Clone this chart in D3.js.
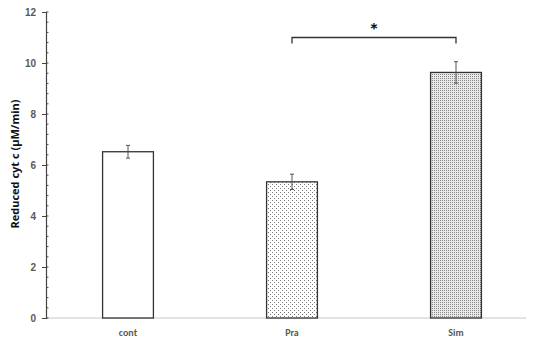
<!DOCTYPE html>
<html>
<head>
<meta charset="utf-8">
<script src="https://cdn.jsdelivr.net/npm/d3@7"></script>
<style>
  body { margin: 0; background: #fff; }
</style>
</head>
<body>
<div id="chart"></div>
<script>
var categories = ["cont", "Pra", "Sim"];
var means = [6.52, 5.34, 9.63];
var errors = [0.25, 0.3, 0.42];
var yTicks = [0, 2, 4, 6, 8, 10, 12];

var width = 550, height = 340;

var svg = d3.select("#chart").append("svg")
    .attr("width", width)
    .attr("height", height)
    .attr("font-family", "Calibri, 'Liberation Sans', Arial, sans-serif");

var defs = svg.append("defs");

// sparse dots for Pra
var p1 = defs.append("pattern")
    .attr("id", "dotsSparse")
    .attr("patternUnits", "userSpaceOnUse")
    .attr("width", 4).attr("height", 4);
p1.append("rect").attr("width", 4).attr("height", 4).attr("fill", "#fff");
p1.append("rect").attr("x", 0).attr("y", 0).attr("width", 1).attr("height", 1).attr("fill", "#777");
p1.append("rect").attr("x", 2).attr("y", 2).attr("width", 1).attr("height", 1).attr("fill", "#777");

// dense dots for Sim
var p2 = defs.append("pattern")
    .attr("id", "dotsDense")
    .attr("patternUnits", "userSpaceOnUse")
    .attr("width", 2).attr("height", 2);
p2.append("rect").attr("width", 2).attr("height", 2).attr("fill", "#e8e8e8");
p2.append("rect").attr("x", 0).attr("y", 0).attr("width", 1).attr("height", 1).attr("fill", "#8a8a8a");

var fills = ["#fff", "url(#dotsSparse)", "url(#dotsDense)"];

var x = d3.scaleBand()
    .domain(categories)
    .range([46, 538])
    .paddingInner(0.69)
    .paddingOuter(0.345);

var y = d3.scaleLinear()
    .domain([0, 12])
    .range([318, 12]);

// baseline
svg.append("line")
    .attr("x1", 46).attr("x2", 526)
    .attr("y1", y(0)).attr("y2", y(0))
    .attr("stroke", "#c8c8c8")
    .attr("stroke-width", 1);

// minor ticks
var minor = d3.range(0, 12.001, 0.4);
svg.append("g")
  .selectAll("line")
  .data(minor)
  .enter().append("line")
    .attr("x1", 46).attr("x2", 48.5)
    .attr("y1", function(d) { return y(d); })
    .attr("y2", function(d) { return y(d); })
    .attr("stroke", "#555");

// y axis
var yAxis = svg.append("g")
    .attr("transform", "translate(46,0)")
    .call(d3.axisLeft(y).tickValues(yTicks).tickSize(4).tickPadding(6));
yAxis.select(".domain").attr("stroke", "#444").attr("stroke-width", 1.2);
yAxis.selectAll(".tick line").attr("stroke", "#444");
yAxis.selectAll("text")
    .attr("font-size", 10)
    .attr("font-weight", "bold")
    .attr("fill", "#595959");

// y axis title
svg.append("text")
    .attr("transform", "translate(19," + 164 + ") rotate(-90)")
    .attr("text-anchor", "middle")
    .attr("font-family", "'Open Sans', sans-serif")
    .attr("font-size", 11)
    .attr("font-weight", "bold")
    .attr("fill", "#111")
    .text("Reduced  cyt c (µM/min)");

// bars
svg.selectAll(".bar")
    .data(categories)
    .enter().append("rect")
      .attr("class", "bar")
      .attr("x", function(d) { return x(d); })
      .attr("y", function(d, i) { return y(means[i]); })
      .attr("width", x.bandwidth())
      .attr("height", function(d, i) { return y(0) - y(means[i]); })
      .attr("fill", function(d, i) { return fills[i]; })
      .attr("stroke", "#333")
      .attr("stroke-width", 1.3);

// error bars
var eb = svg.selectAll(".err")
    .data(categories)
    .enter().append("g")
      .attr("class", "err")
      .attr("stroke", "#555")
      .attr("stroke-width", 1);
eb.append("line")
    .attr("x1", function(d) { return x(d) + x.bandwidth() / 2; })
    .attr("x2", function(d) { return x(d) + x.bandwidth() / 2; })
    .attr("y1", function(d, i) { return y(means[i] + errors[i]); })
    .attr("y2", function(d, i) { return y(means[i] - errors[i]); });
eb.append("line")
    .attr("x1", function(d) { return x(d) + x.bandwidth() / 2 - 2; })
    .attr("x2", function(d) { return x(d) + x.bandwidth() / 2 + 2; })
    .attr("y1", function(d, i) { return y(means[i] + errors[i]); })
    .attr("y2", function(d, i) { return y(means[i] + errors[i]); });
eb.append("line")
    .attr("x1", function(d) { return x(d) + x.bandwidth() / 2 - 2; })
    .attr("x2", function(d) { return x(d) + x.bandwidth() / 2 + 2; })
    .attr("y1", function(d, i) { return y(means[i] - errors[i]); })
    .attr("y2", function(d, i) { return y(means[i] - errors[i]); });

// category labels
svg.selectAll(".cat")
    .data(categories)
    .enter().append("text")
      .attr("class", "cat")
      .attr("x", function(d) { return x(d) + x.bandwidth() / 2; })
      .attr("y", 336)
      .attr("text-anchor", "middle")
      .attr("font-size", 10)
      .attr("font-weight", "bold")
      .attr("fill", "#595959")
      .text(function(d) { return d; });

// significance bracket
var bx1 = x("Pra") + x.bandwidth() / 2,
    bx2 = x("Sim") + x.bandwidth() / 2,
    by = y(11.0);
svg.append("path")
    .attr("d", "M" + bx1 + "," + (by + 6) + "V" + by + "H" + bx2 + "V" + (by + 6))
    .attr("fill", "none")
    .attr("stroke", "#333")
    .attr("stroke-width", 1.3);
svg.append("text")
    .attr("x", (bx1 + bx2) / 2)
    .attr("y", by - 1)
    .attr("text-anchor", "middle")
    .attr("font-size", 21)
    .attr("font-weight", "bold")
    .attr("fill", "#111")
    .text("*");
</script>
</body>
</html>
